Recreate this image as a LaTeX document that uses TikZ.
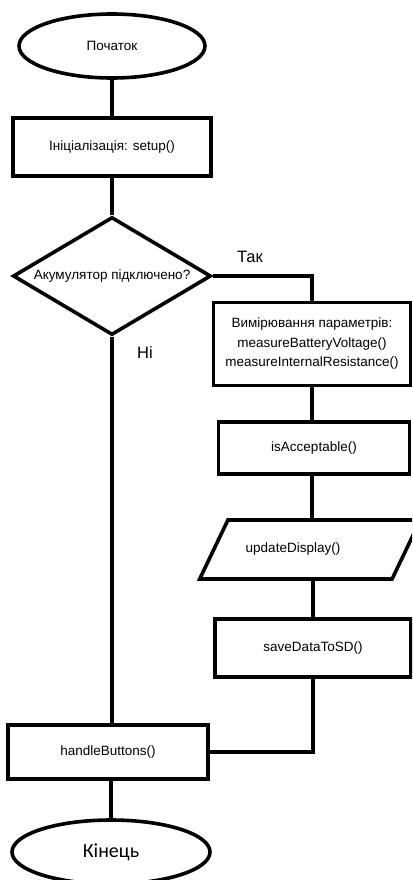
\documentclass[tikz,border=0pt]{standalone}
\usepackage{fontspec}
\setmainfont{Liberation Sans}
\newfontfamily\endfont{Carlito}
\usetikzlibrary{shapes.geometric}

\begin{document}
\begin{tikzpicture}[x=1pt, y=-1pt, line width=3.6pt,
        font=\fontsize{13.5}{19.5}\selectfont,
        term/.style={ellipse, draw, inner sep=0, minimum width=186, minimum height=64},
        proc/.style={rectangle, draw, align=center},
        cond/.style={diamond, draw, inner sep=0, minimum width=198, minimum height=118},
        io/.style={trapezium, draw, trapezium left angle=59, trapezium right angle=121,
            trapezium stretches=true, minimum width=222, minimum height=59},
        branch/.style={font=\fontsize{16.5}{19}\selectfont}]
        \useasboundingbox (0,0) rectangle (412,880);
        \clip (0,0) rectangle (412,880);

        % nodes
        \node[term] (start) at (112,46) {Початок};
        \node[proc, minimum width=198, minimum height=58] (init) at (112,147) {Ініціалізація: setup()};
        \node[cond] (check) at (112,276) {\makebox[0pt]{Акумулятор підключено?}};
        \node[proc, minimum width=197, minimum height=83] (meas) at (312,344)
            {Вимірювання параметрів:\\ measureBatteryVoltage()\\ measureInternalResistance()};
        \node[proc, minimum width=191, minimum height=52] (acc) at (314,448) {isAcceptable()};
        \node[io] (disp) at (310,549.5) {\hspace*{-34pt}updateDisplay()};
        \node[proc, minimum width=196, minimum height=58] (save) at (313,648) {saveDataToSD()};
        \node[proc, minimum width=200, minimum height=54] (hb) at (108,752) {handleButtons()};
        \node[term, minimum width=198, font=\endfont\fontsize{20}{24}\selectfont] (stop) at (111,852) {Кінець};

        \node[branch] (yes) at (250,257) {Так};
        \node[branch] (no) at (145,353) {Ні};

        % connectors
        \draw (start) -- (init);
        \draw (init) -- (check);
        \draw (check.east) -| (meas.north);
        \draw (meas.south) -- (meas.south |- acc.north);
        \draw (acc.south -| meas.south) -- (meas.south |- disp.north);
        \draw (disp.south -| save.north) -- (save.north);
        \draw (save.south) |- (hb.east);
        \draw (check.south) -- (check.south |- hb.north);
        \draw (hb.south -| stop.north) -- (stop.north);
    \end{tikzpicture}
\end{document}
